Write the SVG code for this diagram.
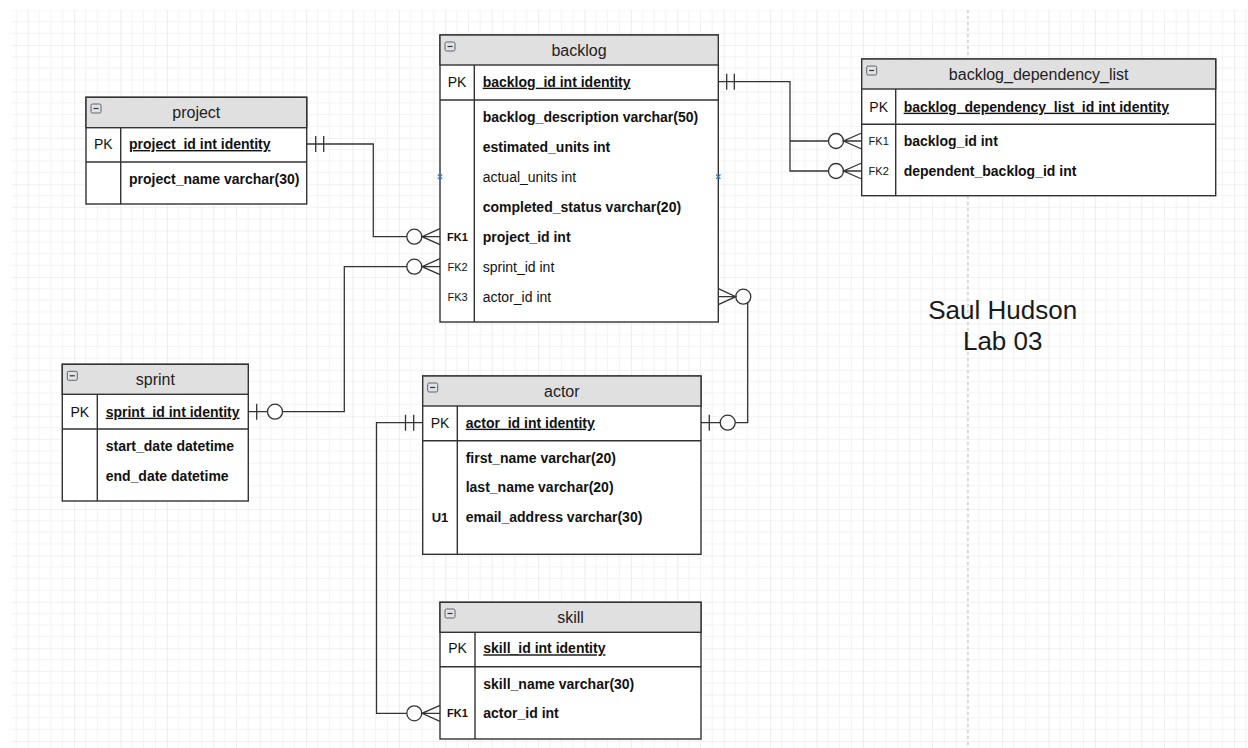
<svg xmlns="http://www.w3.org/2000/svg" width="1248" height="748" viewBox="0 0 1248 748">
<style>
.tbl{fill:#fff;stroke:#333;stroke-width:1.4}
.hdr{fill:#e0e0e0;stroke:#333;stroke-width:1.4}
.ln{stroke:#333;stroke-width:1.4;fill:none}
.title{font-family:"Liberation Sans",Arial,sans-serif;font-size:16px;fill:#222;text-anchor:middle}
.key{font-family:"Liberation Sans",Arial,sans-serif;font-size:14px;fill:#111;text-anchor:middle}
.fk{font-family:"Liberation Sans",Arial,sans-serif;font-size:11px;fill:#111;text-anchor:middle}
.f{font-family:"Liberation Sans",Arial,sans-serif;font-size:14px;fill:#111}
.b{font-weight:bold}
.u{text-decoration:underline}
.conn{stroke:#333;stroke-width:1.3;fill:none}
.circ{fill:#fff;stroke:#333;stroke-width:1.3}
.cp{stroke:#2f7ad8;stroke-width:1.2;fill:none}
.note{font-family:"Liberation Sans",Arial,sans-serif;font-size:26px;fill:#1a1a1a;text-anchor:middle}
</style>
<defs>
<pattern id="grid" width="46.4" height="46.4" patternUnits="userSpaceOnUse" x="27.7" y="45">
<path d="M11.6 0V46.4M23.2 0V46.4M34.8 0V46.4M0 11.6H46.4M0 23.2H46.4M0 34.8H46.4" stroke="#f2f2f2" stroke-width="1"/>
<path d="M0 0V46.4M0 0H46.4" stroke="#e2e2e2" stroke-width="1.2"/>
</pattern>
<g id="mi"><rect x="0" y="0" width="10" height="9" rx="1.5" fill="#dfe3e8" stroke="#555" stroke-width="0.9"/><line x1="2.5" y1="4.5" x2="7.5" y2="4.5" stroke="#333" stroke-width="1.2"/></g>
</defs>
<rect x="0" y="0" width="1248" height="748" fill="#fff"/>
<rect x="11" y="10" width="1237" height="738" fill="url(#grid)"/>
<line x1="968" y1="10" x2="968" y2="748" stroke="#bdbdbd" stroke-width="1" stroke-dasharray="3 3"/>

<g id="connectors">
<!-- project -> backlog -->
<path class="conn" d="M306.7 144H373.3V236.7H406.8"/>
<path class="conn" d="M315.7 136V152M323.7 136V152"/>
<circle class="circ" cx="414.3" cy="236.7" r="7.5"/>
<path class="conn" d="M440 228.7L422 236.7L440 244.7M422 236.7H440"/>
<!-- sprint -> backlog -->
<path class="conn" d="M248.3 411.7H267.5M282.5 411.7H344.3V266.7H406.8"/>
<path class="conn" d="M256.7 403.7V419.7"/>
<circle class="circ" cx="275" cy="411.7" r="7.5"/>
<circle class="circ" cx="414.3" cy="266.7" r="7.5"/>
<path class="conn" d="M440 258.7L422 266.7L440 274.7M422 266.7H440"/>
<!-- actor -> backlog -->
<path class="conn" d="M701 422.7H720.2M735.2 422.7H747.7V302.8"/>
<path class="conn" d="M709.3 414.7V430.7"/>
<circle class="circ" cx="727.7" cy="422.7" r="7.5"/>
<circle class="circ" cx="743.3" cy="296.7" r="7.5"/>
<path class="conn" d="M718.3 288.7L735.8 296.7L718.3 304.7M718.3 296.7H735.8"/>
<!-- actor -> skill -->
<path class="conn" d="M422.7 422.7H376.5V713.3H406.8"/>
<path class="conn" d="M413.7 414.7V430.7M405.5 414.7V430.7"/>
<circle class="circ" cx="414.3" cy="713.3" r="7.5"/>
<path class="conn" d="M440 705.3L422 713.3L440 721.3M422 713.3H440"/>
<!-- backlog -> backlog_dependency_list -->
<path class="conn" d="M718.3 81.7H790V171H828.5M790 141H828.5"/>
<path class="conn" d="M726.7 73.7V89.7M734.3 73.7V89.7"/>
<circle class="circ" cx="836" cy="141" r="7.5"/>
<circle class="circ" cx="836" cy="171" r="7.5"/>
<path class="conn" d="M861.7 133L843.5 141L861.7 149M843.5 141H861.7"/>
<path class="conn" d="M861.7 163L843.5 171L861.7 179M843.5 171H861.7"/>
</g>

<g id="backlog">
<rect class="tbl" x="440" y="35" width="278.3" height="287"/>
<rect class="hdr" x="440" y="35" width="278.3" height="30"/>
<path class="ln" d="M440 100H718.3M474.3 65V322"/>
<use href="#mi" x="445" y="42"/>
<text class="title" x="579" y="55.5">backlog</text>
<text class="key" x="457" y="86.7">PK</text>
<text class="f b u" x="482.7" y="86.7">backlog_id int identity</text>
<text class="f b" x="482.7" y="121.7">backlog_description varchar(50)</text>
<text class="f b" x="482.7" y="151.7">estimated_units int</text>
<text class="f" x="482.7" y="181.7">actual_units int</text>
<text class="f b" x="482.7" y="211.7">completed_status varchar(20)</text>
<text class="fk b" x="457.5" y="240.7">FK1</text>
<text class="f b" x="482.7" y="241.7">project_id int</text>
<text class="fk" x="457.5" y="270.7">FK2</text>
<text class="f" x="482.7" y="271.7">sprint_id int</text>
<text class="fk" x="457.5" y="300.7">FK3</text>
<text class="f" x="482.7" y="301.7">actor_id int</text>
<path class="cp" d="M437.8 174.5L442.2 178.9M442.2 174.5L437.8 178.9M716.1 174.5L720.5 178.9M720.5 174.5L716.1 178.9"/>
</g>

<g id="project">
<rect class="tbl" x="86" y="97.3" width="220.7" height="106.7"/>
<rect class="hdr" x="86" y="97.3" width="220.7" height="30.4"/>
<path class="ln" d="M86 162H306.7M120.7 127.7V204"/>
<use href="#mi" x="91" y="104"/>
<text class="title" x="196.3" y="118.3">project</text>
<text class="key" x="103.3" y="149">PK</text>
<text class="f b u" x="129" y="149">project_id int identity</text>
<text class="f b" x="129" y="184.3">project_name varchar(30)</text>
</g>

<g id="sprint">
<rect class="tbl" x="62.3" y="364.3" width="186" height="136.7"/>
<rect class="hdr" x="62.3" y="364.3" width="186" height="30"/>
<path class="ln" d="M62.3 429H248.3M97.3 394.3V501"/>
<use href="#mi" x="67.3" y="371.3"/>
<text class="title" x="155.3" y="385">sprint</text>
<text class="key" x="79.8" y="416.7">PK</text>
<text class="f b u" x="105.7" y="416.7">sprint_id int identity</text>
<text class="f b" x="105.7" y="450.7">start_date datetime</text>
<text class="f b" x="105.7" y="480.7">end_date datetime</text>
</g>

<g id="actor">
<rect class="tbl" x="422.7" y="376" width="278.3" height="178.3"/>
<rect class="hdr" x="422.7" y="376" width="278.3" height="30"/>
<path class="ln" d="M422.7 440.7H701M457.3 406V554.3"/>
<use href="#mi" x="427.7" y="383"/>
<text class="title" x="561.8" y="396.7">actor</text>
<text class="key" x="440" y="427.7">PK</text>
<text class="f b u" x="465.7" y="427.7">actor_id int identity</text>
<text class="f b" x="465.7" y="463.3">first_name varchar(20)</text>
<text class="f b" x="465.7" y="492.3">last_name varchar(20)</text>
<text class="key b" x="440" y="522.3" style="font-size:13px">U1</text>
<text class="f b" x="465.7" y="522.3">email_address varchar(30)</text>
</g>

<g id="skill">
<rect class="tbl" x="440" y="602.3" width="261" height="136.7"/>
<rect class="hdr" x="440" y="602.3" width="261" height="30"/>
<path class="ln" d="M440 666.7H701M475 632.3V739"/>
<use href="#mi" x="445" y="609"/>
<text class="title" x="570.5" y="623">skill</text>
<text class="key" x="457.5" y="653.3">PK</text>
<text class="f b u" x="483.3" y="653.3">skill_id int identity</text>
<text class="f b" x="483.3" y="689.3">skill_name varchar(30)</text>
<text class="fk b" x="457.5" y="717.3">FK1</text>
<text class="f b" x="483.3" y="718.3">actor_id int</text>
</g>

<g id="backlog_dependency_list">
<rect class="tbl" x="861.7" y="59" width="354" height="136.7"/>
<rect class="hdr" x="861.7" y="59" width="354" height="30"/>
<path class="ln" d="M861.7 124.3H1215.7M895.7 89V195.7"/>
<use href="#mi" x="866.7" y="66"/>
<text class="title" x="1038.7" y="80">backlog_dependency_list</text>
<text class="key" x="878.7" y="111.7">PK</text>
<text class="f b u" x="903.7" y="111.7">backlog_dependency_list_id int identity</text>
<text class="fk" x="878.7" y="145">FK1</text>
<text class="f b" x="903.7" y="146">backlog_id int</text>
<text class="fk" x="878.7" y="175">FK2</text>
<text class="f b" x="903.7" y="176">dependent_backlog_id int</text>
</g>

<g id="label">
<text class="note" x="1002.7" y="319.3">Saul Hudson</text>
<text class="note" x="1002.7" y="350">Lab 03</text>
</g>
</svg>
